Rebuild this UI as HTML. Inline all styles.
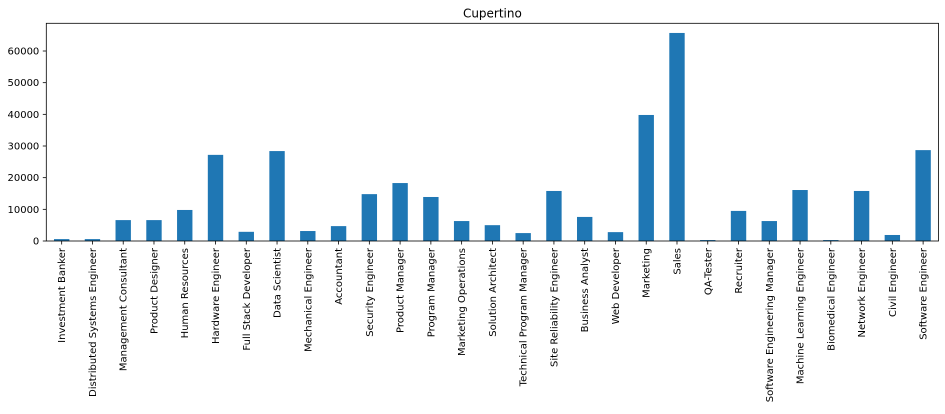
<!DOCTYPE html>
<html><head><meta charset="utf-8"><style>
body{margin:0;background:#fff;width:945px;height:409px;overflow:hidden}
svg text{font-family:"DejaVu Sans","Liberation Sans",sans-serif;fill:#000}
</style></head><body>
<svg id="chart" width="945" height="409" xmlns="http://www.w3.org/2000/svg"></svg>
<script>
const categories=["Investment Banker","Distributed Systems Engineer","Management Consultant","Product Designer","Human Resources","Hardware Engineer","Full Stack Developer","Data Scientist","Mechanical Engineer","Accountant","Security Engineer","Product Manager","Program Manager","Marketing Operations","Solution Architect","Technical Program Manager","Site Reliability Engineer","Business Analyst","Web Developer","Marketing","Sales","QA-Tester","Recruiter","Software Engineering Manager","Machine Learning Engineer","Biomedical Engineer","Network Engineer","Civil Engineer","Software Engineer"];
const values=[600,600,6600,6600,9800,27200,2900,28400,3150,4700,14800,18300,13900,6300,5000,2500,15800,7600,2800,39800,65700,300,9500,6300,16100,300,15800,1900,28700];
const yTicks=[0,10000,20000,30000,40000,50000,60000];
const title="Cupertino";
const svg=document.getElementById('chart');
const NS="http://www.w3.org/2000/svg";
const L=46.3,R=938.5,T=23.3,B=241,YMAX=68750;
const y=v=>B-(v/YMAX)*(B-T);
const step=(R-L)/categories.length;
const x=i=>L+step*(i+0.5);
function mk(tag,attrs){const e=document.createElementNS(NS,tag);for(const k in attrs)e.setAttribute(k,attrs[k]);svg.appendChild(e);return e;}
categories.forEach((c,i)=>{
  const r=mk('rect',{x:x(i)-step/4,y:y(values[i]),width:step/2,height:B-y(values[i]),fill:'#1f77b4'});
  
  
  const tk=mk('line',{x1:x(i),x2:x(i),y1:B,y2:B+3.5,stroke:'#000','stroke-width':0.8});
  
  
  const t=mk('text',{x:0,y:0,'font-size':10,'text-anchor':'end',transform:`translate(${x(i)+3.5},${B+7}) rotate(-90)`});
  t.textContent=c;
  
  
});
yTicks.forEach(v=>{
  const tk=mk('line',{x1:L-3.5,x2:L,y1:y(v),y2:y(v),stroke:'#000','stroke-width':0.8});
  
  
  const t=mk('text',{x:L-7,y:y(v)+3.5,'font-size':10,'text-anchor':'end'});
  t.textContent=v;
  
  
});
const fr=mk('rect',{x:L,y:T,width:R-L,height:B-T,fill:'none',stroke:'#000','stroke-width':0.8});


const tt=mk('text',{x:(L+R)/2,y:T-6,'font-size':12,'text-anchor':'middle'});
tt.textContent=title;


</script>
</body></html>
